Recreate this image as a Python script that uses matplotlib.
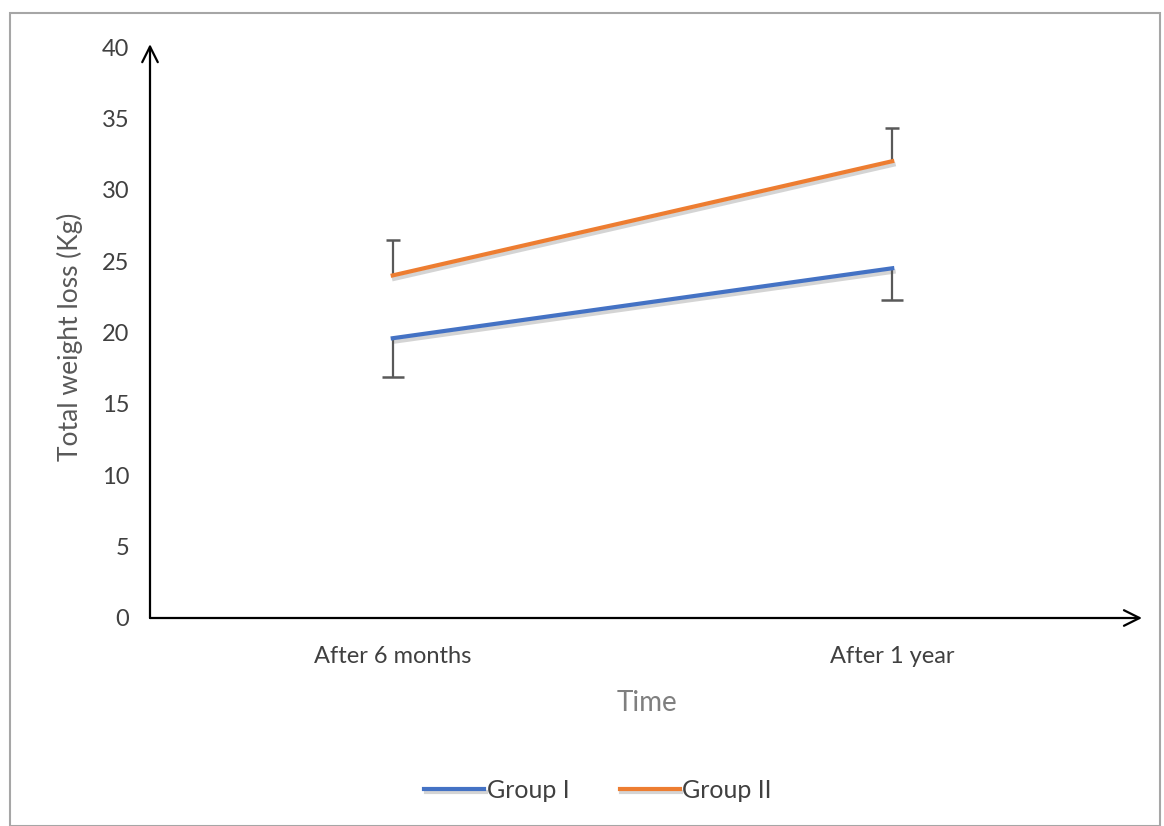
import matplotlib
matplotlib.use("Agg")
import matplotlib.pyplot as plt
import matplotlib.patheffects as pe
from matplotlib.patches import Rectangle

# data
times = ["After 6 months", "After 1 year"]
group1 = [19.6, 24.5]
group1_err_lo = [2.7, 2.2]
group2 = [24.0, 32.0]
group2_err_hi = [2.5, 2.3]
yticks = [0, 5, 10, 15, 20, 25, 30, 35, 40]

BLUE = "#4472C4"
ORANGE = "#ED7D31"
TXT = "#404040"
plt.rcParams["font.family"] = ["Lato", "DejaVu Sans"]

W, H = 1164, 826
fig = plt.figure(figsize=(W / 100, H / 100), dpi=100)
fig.patches.append(Rectangle((10 / W, 0), 1150 / W, 1 - 13 / H, transform=fig.transFigure,
                             fill=False, edgecolor="#a6a6a6", lw=1.5))

ax = fig.add_axes([150 / W, (H - 618) / H, 992 / W, 571 / H])
ax.set_facecolor("none")
x = list(range(len(times)))

# one-sided error bars: Group I downwards, Group II upwards
g1_lo = [v - e for v, e in zip(group1, group1_err_lo)]
g2_hi = [v + e for v, e in zip(group2, group2_err_hi)]
ax.vlines(x, g1_lo, group1, color="#595959", lw=1.6, zorder=2)
ax.plot(x, g1_lo, ls="none", marker="_", ms=16, mew=1.8, color="#595959", zorder=2)
ax.vlines(x, group2, g2_hi, color="#595959", lw=1.6, zorder=2)
ax.plot(x, g2_hi, ls="none", marker="_", ms=10, mew=1.8, color="#595959", zorder=2)

shadow = [pe.SimpleLineShadow(offset=(1, -2.5), alpha=0.25, shadow_color="#555555"), pe.Normal()]
ax.plot(x, group1, color=BLUE, lw=3, label="Group I", path_effects=shadow, zorder=3)
ax.plot(x, group2, color=ORANGE, lw=3, label="Group II", path_effects=shadow, zorder=3)

ax.set_xlim(-0.486, 1.5)
ax.set_ylim(0, 40)
ax.set_yticks(yticks)
ax.set_xticks(x)
ax.set_xticklabels(times)
for s in ax.spines.values():
    s.set_visible(False)
ax.tick_params(axis="both", length=0, labelsize=17, labelcolor=TXT)
ax.tick_params(axis="y", pad=15)
ax.tick_params(axis="x", pad=20)

# arrow axes
ax.annotate("", xy=(0, 1.005), xytext=(0, 0), xycoords="axes fraction",
            arrowprops=dict(arrowstyle="->", color="black", lw=1.6, mutation_scale=28,
                            shrinkA=0, shrinkB=0))
ax.annotate("", xy=(1.0, 0), xytext=(0, 0), xycoords="axes fraction",
            arrowprops=dict(arrowstyle="->", color="black", lw=1.6, mutation_scale=28,
                            shrinkA=0, shrinkB=0))

fig.text(647 / W, 1 - 703 / H, "Time", fontsize=20, color="#7f7f7f", ha="center", va="center")
fig.text(70 / W, 1 - 337 / H, "Total weight loss (Kg)", fontsize=19, color="#595959",
         rotation=90, ha="center", va="center")

fig.legend(loc="center", bbox_to_anchor=(598 / W, 1 - 790 / H), ncol=2, frameon=False,
           fontsize=18, handlelength=2.4, handletextpad=0.1, columnspacing=2.0, labelcolor=TXT)

fig.savefig("out.png", dpi=100)
